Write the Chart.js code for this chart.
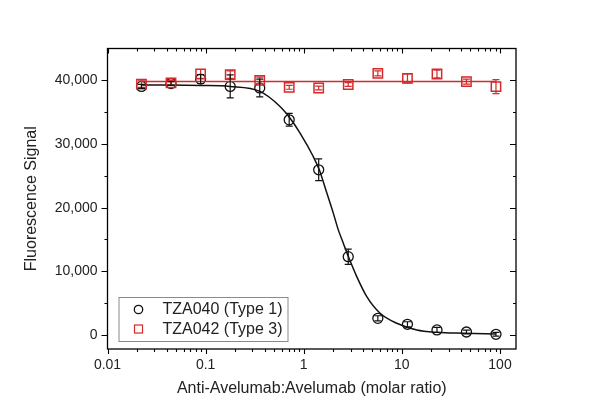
<!DOCTYPE html>
<html>
<head>
<meta charset="utf-8">
<script src="https://cdn.jsdelivr.net/npm/chart.js@4.4.1/dist/chart.umd.min.js"></script>
<style>
html,body{margin:0;padding:0;background:#fff;}
#wrap{width:600px;height:418px;position:relative;}
</style>
</head>
<body>
<div id="wrap"><canvas id="c" width="600" height="418"></canvas></div>
<script>
// ---- data ----
const ratios    = [0.0222, 0.0444, 0.0889, 0.178, 0.356, 0.711, 1.42, 2.84, 5.69, 11.4, 22.8, 45.5, 91.0];
const tza040    = [39050, 39500, 40200, 39050, 38800, 33800, 25950, 12300, 2620, 1680, 790, 470, 110];
const tza040Err = [300, 300, 700, 1800, 1400, 1000, 1700, 1200, 400, 400, 400, 300, 300];
const tza042    = [39400, 39600, 41000, 40900, 40000, 38900, 38800, 39350, 41100, 40300, 41000, 39800, 39000];
const tza042Err = [500, 400, 700, 600, 500, 300, 300, 300, 400, 700, 600, 400, 1100];
// fitted curve of TZA040
const fit040X = [0.0222, 0.0444, 0.0898, 0.177, 0.358, 0.573, 0.723, 0.917, 1.25, 1.44, 1.72, 2.00, 2.25, 2.53, 2.85, 3.47, 4.39, 6.00, 8.87, 14.2, 22.7, 42.4, 91.0];
const fit040Y = [39250, 39250, 39200, 39050, 38270, 35900, 34080, 31720, 28040, 25950, 22290, 19140, 16510, 14420, 12320, 9170, 6020, 3410, 1840, 790, 420, 270, 160];
// fitted (flat) line of TZA042
const fit042X = [0.0222, 91.0];
const fit042Y = [39800, 39800];
const seriesNames = ['TZA040 (Type 1)', 'TZA042 (Type 3)'];
const xTickValues = [0.01, 0.1, 1, 10, 100];
const xTickLabels = ['0.01', '0.1', '1', '10', '100'];
const yTickValues = [0, 10000, 20000, 30000, 40000];
const yTickLabels = ['0', '10,000', '20,000', '30,000', '40,000'];
const xTitle = 'Anti-Avelumab:Avelumab (molar ratio)';
const yTitle = 'Fluorescence Signal';

const BLACK = '#111111';
const RED = '#d42a2a';
const TEXT = '#222222';
const FONT = "'Liberation Sans', Arial, sans-serif";

const pts = (xs, ys) => xs.map((x, i) => ({x: x, y: ys[i]}));

const errorBars = {
  id: 'errorBars',
  afterDatasetsDraw(chart) {
    const ctx = chart.ctx, xs = chart.scales.x, ys = chart.scales.y;
    chart.data.datasets.forEach((ds, di) => {
      if (!ds.errors) return;
      ctx.save();
      ctx.strokeStyle = ds.borderColor;
      ctx.lineWidth = 1.2;
      ds.data.forEach((p, i) => {
        const e = ds.errors[i];
        const px = xs.getPixelForValue(p.x);
        const y1 = ys.getPixelForValue(p.y + e);
        const y2 = ys.getPixelForValue(p.y - e);
        ctx.beginPath();
        ctx.moveTo(px, y1); ctx.lineTo(px, y2);
        ctx.moveTo(px - 3.5, y1); ctx.lineTo(px + 3.5, y1);
        ctx.moveTo(px - 3.5, y2); ctx.lineTo(px + 3.5, y2);
        ctx.stroke();
      });
      ctx.restore();
    });
  }
};

const frameAndTicks = {
  id: 'frameAndTicks',
  afterDraw(chart) {
    const ctx = chart.ctx, a = chart.chartArea, xs = chart.scales.x, ys = chart.scales.y;
    ctx.save();
    ctx.strokeStyle = '#000';
    ctx.lineWidth = 1.3;
    ctx.strokeRect(a.left, a.top, a.right - a.left, a.bottom - a.top);
    ctx.lineWidth = 1.1;
    ctx.beginPath();
    // x ticks: bottom outward, top inward
    for (let e = -2; e <= 2; e++) {
      for (let k = 1; k <= 9; k++) {
        const v = k * Math.pow(10, e);
        if (v < xs.min || v > xs.max) continue;
        const px = Math.round(xs.getPixelForValue(v)) + 0.5;
        const len = k === 1 ? 5 : 3;
        ctx.moveTo(px, a.bottom); ctx.lineTo(px, a.bottom + len);
        ctx.moveTo(px, a.top); ctx.lineTo(px, a.top + len);
      }
    }
    // y ticks: left outward, right inward
    for (let v = 0; v <= 40000; v += 5000) {
      const py = Math.round(ys.getPixelForValue(v)) + 0.5;
      const len = v % 10000 === 0 ? 6 : 3;
      ctx.moveTo(a.left, py); ctx.lineTo(a.left - len, py);
      ctx.moveTo(a.right, py); ctx.lineTo(a.right - len, py);
    }
    ctx.stroke();

    // legend inside plot
    const lx = a.left + 11, ly = a.bottom - 52, lw = 169, lh = 44;
    ctx.strokeStyle = '#8a8a8a';
    ctx.lineWidth = 1;
    ctx.strokeRect(lx + 0.5, ly + 0.5, lw, lh);
    ctx.font = '16px ' + FONT;
    ctx.fillStyle = TEXT;
    ctx.textBaseline = 'middle';
    ctx.textAlign = 'left';
    // entry 1: circle
    ctx.strokeStyle = BLACK; ctx.lineWidth = 1.3;
    ctx.beginPath(); ctx.arc(lx + 20, ly + 12.5, 4.2, 0, Math.PI * 2); ctx.stroke();
    ctx.fillText(seriesNames[0], lx + 44, ly + 13);
    // entry 2: square
    ctx.strokeStyle = RED; ctx.lineWidth = 1.2;
    ctx.strokeRect(lx + 16, ly + 28, 8, 8);
    ctx.fillText(seriesNames[1], lx + 44, ly + 33);
    ctx.restore();
  }
};

new Chart(document.getElementById('c'), {
  type: 'scatter',
  data: {
    datasets: [
      { label: seriesNames[1], data: pts(ratios, tza042), errors: tza042Err,
        pointStyle: 'rect', pointRadius: 6.6, borderWidth: 1.5,
        borderColor: RED, backgroundColor: 'rgba(0,0,0,0)', showLine: false },
      { label: seriesNames[1] + ' fit', data: pts(fit042X, fit042Y),
        showLine: true, pointRadius: 0, borderColor: RED, borderWidth: 1.5 },
      { label: seriesNames[0], data: pts(ratios, tza040), errors: tza040Err,
        pointStyle: 'circle', pointRadius: 5, borderWidth: 1.3,
        borderColor: BLACK, backgroundColor: 'rgba(0,0,0,0)', showLine: false },
      { label: seriesNames[0] + ' fit', data: pts(fit040X, fit040Y),
        showLine: true, pointRadius: 0, borderColor: BLACK, borderWidth: 1.5,
        cubicInterpolationMode: 'monotone' }
    ]
  },
  options: {
    responsive: false,
    animation: false,
    devicePixelRatio: 1,
    layout: { padding: { top: 48.5, right: 84, left: 0, bottom: 0 } },
    plugins: { legend: { display: false }, tooltip: { enabled: false } },
    scales: {
      x: {
        type: 'logarithmic', position: 'bottom', min: 0.01, max: 145.6,
        grid: { display: false, drawTicks: false },
        border: { display: false },
        afterBuildTicks: (s) => { s.ticks = xTickValues.map(v => ({ value: v })); },
        afterFit: (s) => { s.height = 69; },
        ticks: {
          autoSkip: false, maxRotation: 0, padding: 8,
          color: TEXT, font: { family: FONT, size: 14 },
          callback: (v) => { const i = xTickValues.indexOf(v); return i >= 0 ? xTickLabels[i] : ''; }
        },
        title: { display: true, text: xTitle, color: TEXT,
                 font: { family: FONT, size: 16 }, padding: { top: 0, bottom: 20 } }
      },
      y: {
        type: 'linear', position: 'left', min: -2200, max: 45000,
        grid: { display: false, drawTicks: false },
        border: { display: false },
        afterBuildTicks: (s) => { s.ticks = yTickValues.map(v => ({ value: v })); },
        afterFit: (s) => { s.width = 107.5; },
        ticks: {
          autoSkip: false, padding: 10,
          color: TEXT, font: { family: FONT, size: 14 },
          callback: (v) => { const i = yTickValues.indexOf(v); return i >= 0 ? yTickLabels[i] : ''; }
        },
        title: { display: true, text: yTitle, color: TEXT,
                 font: { family: FONT, size: 16 }, padding: { top: 22, bottom: 0 } }
      }
    }
  },
  plugins: [errorBars, frameAndTicks]
});
</script>
</body>
</html>
